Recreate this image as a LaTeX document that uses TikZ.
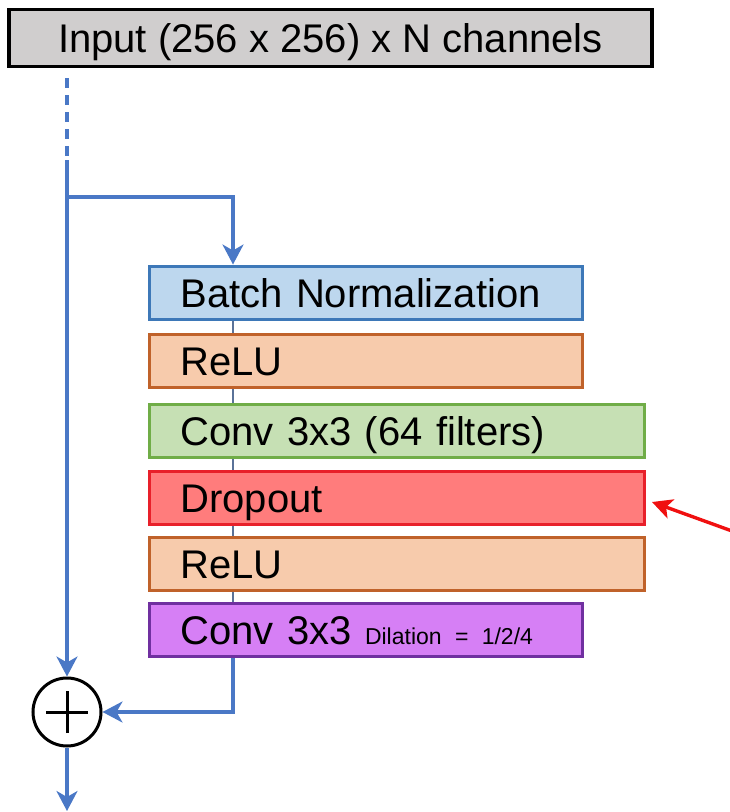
\documentclass[tikz,border=0pt]{standalone}
\usepackage{fontspec}
\setmainfont{Liberation Sans}
\usetikzlibrary{arrows.meta,backgrounds}
\definecolor{conn}{HTML}{4A78C6}
\definecolor{innerc}{HTML}{5A7298}
\definecolor{ingray}{HTML}{D0CECE}
\definecolor{bnfill}{HTML}{BDD7EE}
\definecolor{bndraw}{HTML}{3D78B8}
\definecolor{relufill}{HTML}{F7CBAC}
\definecolor{reludraw}{HTML}{C0622A}
\definecolor{convfill}{HTML}{C6E0B4}
\definecolor{convdraw}{HTML}{70AD47}
\definecolor{dofill}{HTML}{FF7C7C}
\definecolor{dodraw}{HTML}{E8202A}
\definecolor{purfill}{HTML}{D67FF5}
\definecolor{purdraw}{HTML}{7030A0}
\definecolor{redarr}{HTML}{F01010}
\tikzset{
  bigfont/.style={font=\fontsize{40}{48}\selectfont},
  blk/.style={draw, line width=3pt, anchor=north west, inner xsep=31pt, inner ysep=0pt,
    align=left, text height=29pt, text depth=0pt, minimum height=53pt, bigfont},
  narrowblk/.style={blk, text width=371pt},
  wideblk/.style={blk, text width=433pt},
  connline/.style={draw=conn, line width=3.2pt},
  conarrow/.style={connline, -{Stealth[length=20pt, width=21pt, inset=6pt]}},
  innerline/.style={draw=innerc, line width=1.6pt},
}
\begin{document}
\begin{tikzpicture}[x=1pt, y=-1pt]
\useasboundingbox (0,0) rectangle (730,812);
% input
\node[draw=black, fill=ingray, line width=3.5pt, minimum width=643pt, minimum height=57pt,
  inner sep=0pt, text height=29pt, text depth=0pt, bigfont] (in) at (330.5,38) {Input (256 x 256) x N channels};
% blocks
\node[narrowblk, fill=bnfill, draw=bndraw] (bn) at (148,264.5) {Batch Normalization};
\node[narrowblk, fill=relufill, draw=reludraw] (r1) at (148,333) {ReLU};
\node[wideblk, fill=convfill, draw=convdraw] (c1) at (148,403) {Conv 3x3 (64 filters)};
\node[wideblk, fill=dofill, draw=dodraw] (do) at (148,469.5) {Dropout};
\node[wideblk, fill=relufill, draw=reludraw] (r2) at (148,536) {ReLU};
\node[narrowblk, fill=purfill, draw=purdraw] (c2) at (148,602) {Conv 3x3 {\fontsize{23}{28}\selectfont Dilation = 1/2/4}};
% sum
\node[circle, draw=black, line width=3pt, minimum size=68pt, inner sep=0pt] (sum) at (67,712) {};
\draw[line width=3pt] ([xshift=-21pt]sum.center) -- ([xshift=21pt]sum.center);
\draw[line width=3pt] ([yshift=-21pt]sum.center) -- ([yshift=21pt]sum.center);
% coordinates
\coordinate (d0) at (67,78);
\coordinate (d1) at (67,156);
\coordinate (s0) at (67,160);
\coordinate (br) at (67,197);
\coordinate (col) at (233,0);
\coordinate (out) at (67,811);
\coordinate (rs) at (732,531);
% inner line behind blocks
\begin{scope}[on background layer]
\draw[innerline] (col |- bn.north) -- (col |- c2.south);
\end{scope}
% connectors
\draw[connline, dash pattern=on 10pt off 7pt] (d0) -- (d1);
\draw[conarrow] (s0) -- (sum.north);
\draw[conarrow] (br) -| (col |- bn.north);
\draw[conarrow] (col |- c2.south) |- (sum.east);
\draw[conarrow] (sum.south) -- (out);
\draw[draw=redarr, line width=3.4pt, -{Stealth[length=20pt, width=20pt, inset=5pt]}] (rs) -- ([xshift=6pt, yshift=-4.5pt]do.east);
\end{tikzpicture}
\end{document}
